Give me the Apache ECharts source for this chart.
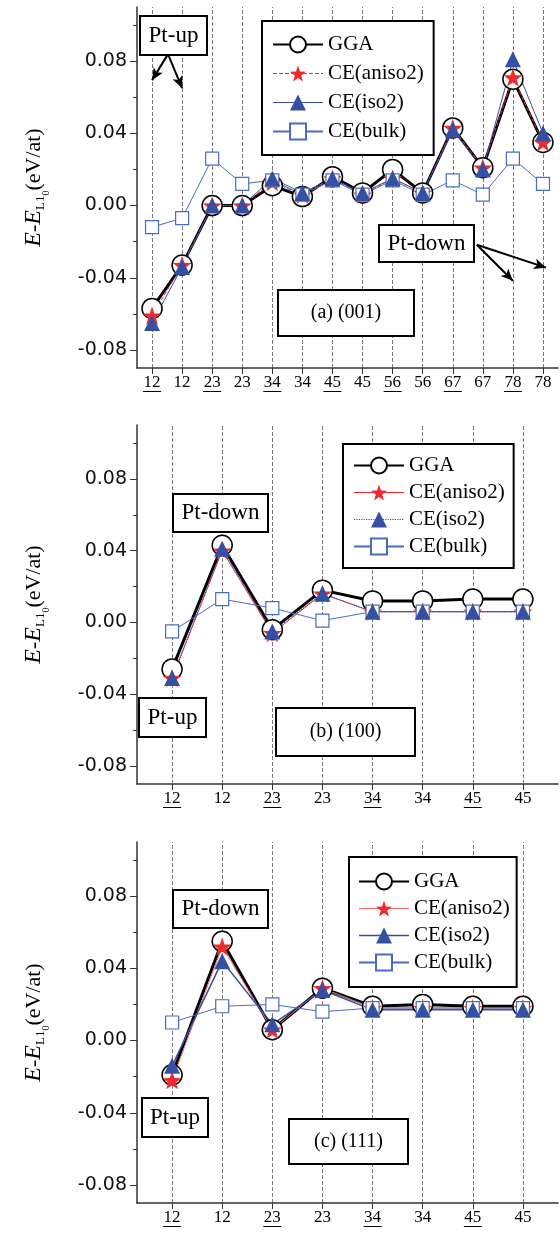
<!DOCTYPE html>
<html><head><meta charset="utf-8">
<script src="https://cdn.jsdelivr.net/npm/echarts@6/dist/echarts.min.js"></script>
<style>html,body{margin:0;padding:0;background:#fff}#c{width:560px;height:1238px}</style>
</head><body><div id="c"></div>
<script>
// ---------- data ----------
const catsA = ['12','12','23','23','34','34','45','45','56','56','67','67','78','78'];
const underA = [1,0,1,0,1,0,1,0,1,0,1,0,1,0];
const ggaA    = [-0.057,-0.033,0.000,0.000,0.011,0.005,0.016,0.007,0.020,0.007,0.043,0.021,0.070,0.035];
const anisoA  = [-0.061,-0.033,0.000,0.000,0.013,0.006,0.015,0.006,0.015,0.007,0.043,0.021,0.071,0.035];
const isoA    = [-0.065,-0.034,0.000,0.000,0.015,0.007,0.015,0.007,0.015,0.007,0.042,0.020,0.081,0.040];
const bulkA   = [-0.012,-0.007,0.026,0.012,0.014,0.006,0.014,0.006,0.014,0.006,0.014,0.006,0.026,0.012];

const catsBC = ['12','12','23','23','34','34','45','45'];
const underBC = [1,0,1,0,1,0,1,0];
const ggaB   = [-0.026,0.043,-0.004,0.018,0.012,0.012,0.013,0.013];
const anisoB = [-0.031,0.040,-0.006,0.016,0.006,0.006,0.006,0.006];
const isoB   = [-0.031,0.041,-0.005,0.016,0.006,0.006,0.006,0.006];
const bulkB  = [-0.005,0.013,0.008,0.001,0.006,0.006,0.006,0.006];

const ggaC   = [-0.019,0.055,0.006,0.029,0.019,0.020,0.019,0.019];
const anisoC = [-0.022,0.052,0.006,0.029,0.018,0.018,0.018,0.018];
const isoC   = [-0.014,0.044,0.009,0.028,0.017,0.017,0.017,0.017];
const bulkC  = [0.010,0.019,0.020,0.016,0.018,0.018,0.018,0.018];

const yTicks = [-0.08,-0.04,0.00,0.04,0.08];
const yMinorTicks = [-0.06,-0.02,0.02,0.06,0.10];
const seriesNames = ['GGA','CE(aniso2)','CE(iso2)','CE(bulk)'];
const panelLabels = ['(a) (001)','(b) (100)','(c) (111)'];

// ---------- styles / layout ----------
const SERIF = '"Liberation Serif", "Times New Roman", serif';
const SANS = '"DejaVu Sans", sans-serif';
const STAR = 'path://M50,2L61.8,36.2L97.6,36.9L69,58.8L79.4,93.1L50,72.6L20.6,93.1L31,58.8L2.4,36.9L38.2,36.2Z';
const RED = '#ee2a2e', BLUE = '#3550a3', BULK = '#4a6cc0', AXIS = '#333';

const panels = [
  {cats:catsA, under:underA, d:[ggaA,anisoA,isoA,bulkA], xmin:-0.5, xmax:13.5, top:7, height:361,
   anisoType:'dashed', anisoColor:RED, isoType:'solid', isoWidth:1,
   legend:{left:262, top:21, pad:[13,10,13,10], gap:8}},
  {cats:catsBC, under:underBC, d:[ggaB,anisoB,isoB,bulkB], xmin:-0.7, xmax:7.7, top:425, height:359,
   anisoType:'solid', anisoColor:RED, isoType:'dotted', isoWidth:1.2,
   legend:{left:343, top:444, pad:[11,9,11,10], gap:6}},
  {cats:catsBC, under:underBC, d:[ggaC,anisoC,isoC,bulkC], xmin:-0.7, xmax:7.7, top:842, height:361,
   anisoType:'solid', anisoColor:'#f46a6a', isoType:'solid', isoWidth:1.5,
   legend:{left:349, top:857, pad:[14,7,14,9], gap:6}}
];

// annotation boxes [x, y, w, h, text, fontSize]
const boxes = [
  [140,16,67,39,'Pt-up',23],[379,225,95,37,'Pt-down',23],[278,290,136,46,panelLabels[0],20],
  [173,494,95,38,'Pt-down',23],[139,698,67,39,'Pt-up',23],[276,708,139,48,panelLabels[1],20],
  [173,890,95,38,'Pt-down',23],[142,1098,66,39,'Pt-up',23],[289,1119,119,45,panelLabels[2],20]
];
// arrows in panel (a), data coordinates [from, to]
const arrowsA = [
  [[0.53,0.0839],[0,0.0694]], [[0.53,0.0839],[1,0.065]],
  [[10.8,-0.0217],[12,-0.0417]], [[10.8,-0.0217],[13.1,-0.0344]]
];

const pairs = arr => arr.map((v,i)=>[i,v]);

const grid = panels.map(p=>({left:137, top:p.top, width:421, height:p.height}));

const xAxis = panels.map((p,k)=>({
  type:'value', gridIndex:k, min:p.xmin, max:p.xmax,
  axisLine:{show:true, onZero:false, lineStyle:{color:AXIS, width:1.5}},
  axisTick:{show:true, customValues:p.cats.map((c,i)=>i), length:6, lineStyle:{color:AXIS, width:1}},
  axisLabel:{show:true, customValues:p.cats.map((c,i)=>i), margin:8,
    formatter:v=>{const i=Math.round(v); return p.under[i] ? '{t|'+p.cats[i]+'}\n{ul| }' : '{t|'+p.cats[i]+'}\n{nl| }';},
    rich:{
      t:{fontFamily:SERIF, fontSize:17, color:'#000', lineHeight:14},
      ul:{width:18, height:1, backgroundColor:'#000', fontSize:1, lineHeight:3},
      nl:{width:18, height:1, fontSize:1, lineHeight:3}
    }},
  splitLine:{show:false}
}));

const yName = '{i|E}{n|-}{i|E}{s|L1}{ss|0}{n|(eV/at)}';
const yAxis = [];
panels.forEach((p,k)=>{
  yAxis.push({
    type:'value', gridIndex:k, min:-0.09, max:0.11, position:'left',
    axisLine:{show:true, onZero:false, lineStyle:{color:AXIS, width:1.5}},
    axisTick:{show:true, customValues:yTicks, length:7, lineStyle:{color:AXIS, width:1}},
    axisLabel:{show:true, customValues:yTicks, formatter:v=>v.toFixed(2), fontFamily:SANS, fontSize:19, color:'#111', margin:10},
    splitLine:{show:false},
    name:yName, nameLocation:'middle', nameRotate:90, nameGap:86,
    nameTextStyle:{fontFamily:SERIF, fontSize:22, color:'#000', rich:{
      i:{fontFamily:SERIF, fontStyle:'italic', fontSize:24, color:'#000'},
      n:{fontFamily:SERIF, fontSize:22, color:'#000'},
      s:{fontFamily:SERIF, fontSize:13, color:'#000', padding:[13,0,0,0]},
      ss:{fontFamily:SERIF, fontSize:10, color:'#000', padding:[24,0,0,0]}
    }}
  });
  yAxis.push({
    type:'value', gridIndex:k, min:-0.09, max:0.11, position:'left', offset:0,
    axisLine:{show:false, onZero:false},
    axisTick:{show:true, customValues:yMinorTicks, length:4, lineStyle:{color:AXIS, width:1}},
    axisLabel:{show:false}, splitLine:{show:false}
  });
});

const series = [];
panels.forEach((p,k)=>{
  const ax = {xAxisIndex:k, yAxisIndex:2*k};
  series.push(Object.assign({type:'line', data:[], silent:true,
    markLine:{silent:true, z:1, symbol:['none','none'], label:{show:false},
      lineStyle:{type:[4,2], color:'#555', width:0.8},
      data:p.cats.map((c,i)=>({xAxis:i}))}}, ax));
  series.push(Object.assign({name:seriesNames[0], type:'line', data:pairs(p.d[0]), symbol:'circle', symbolSize:20,
    itemStyle:{color:'#fff', borderColor:'#000', borderWidth:1.5}, lineStyle:{color:'#000', width:3}, z:2}, ax));
  series.push(Object.assign({name:seriesNames[1], type:'line', data:pairs(p.d[1]), symbol:STAR, symbolSize:19, symbolKeepAspect:true,
    itemStyle:{color:RED}, lineStyle:{color:p.anisoColor, width:1, type:p.anisoType}, z:2}, ax));
  series.push(Object.assign({name:seriesNames[3], type:'line', data:pairs(p.d[3]), symbol:'rect', symbolSize:13,
    itemStyle:{color:'#fff', borderColor:BULK, borderWidth:1.2}, lineStyle:{color:BULK, width:1}, z:2}, ax));
  series.push(Object.assign({name:seriesNames[2], type:'line', data:pairs(p.d[2]), symbol:'triangle', symbolSize:16,
    itemStyle:{color:BLUE}, lineStyle:{color:BLUE, width:p.isoWidth, type:p.isoType}, z:2}, ax));
});
series.push({type:'line', xAxisIndex:0, yAxisIndex:0, data:[], silent:true,
  markLine:{silent:true, z:6, symbol:['none','arrow'], symbolSize:[8,12], label:{show:false},
    lineStyle:{color:'#000', width:2, type:'solid'},
    data:arrowsA.map(a=>[{coord:a[0]},{coord:a[1]}])}});

const legend = panels.map(p=>({
  orient:'vertical', left:p.legend.left, top:p.legend.top, padding:p.legend.pad, itemGap:p.legend.gap,
  itemWidth:50, itemHeight:20, backgroundColor:'#fff', borderColor:'#000', borderWidth:2, z:8,
  selectedMode:false,
  textStyle:{fontFamily:SERIF, fontSize:21, color:'#000', lineHeight:20},
  data:[
    {name:seriesNames[0]},
    {name:seriesNames[1], lineStyle:{type:p.anisoType, color:p.anisoColor, width:1}},
    {name:seriesNames[2], lineStyle:{type:p.isoType, color:BLUE, width:p.isoWidth}},
    {name:seriesNames[3]}
  ]
}));

const graphicEls = [];
boxes.forEach(b=>{
  graphicEls.push({type:'rect', shape:{x:b[0], y:b[1], width:b[2], height:b[3]},
    style:{fill:'#fff', stroke:'#000', lineWidth:2}, z:10});
  graphicEls.push({type:'text', x:b[0]+b[2]/2, y:b[1]+b[3]/2,
    style:{text:b[4], fontFamily:SERIF, fontSize:b[5], fill:'#000', align:'center', verticalAlign:'middle'}, z:11});
});

const chart = echarts.init(document.getElementById('c'));
chart.setOption({
  backgroundColor:'#fff', animation:false,
  grid, xAxis, yAxis, series, legend,
  graphic:{elements:graphicEls}
});
</script>
</body></html>
